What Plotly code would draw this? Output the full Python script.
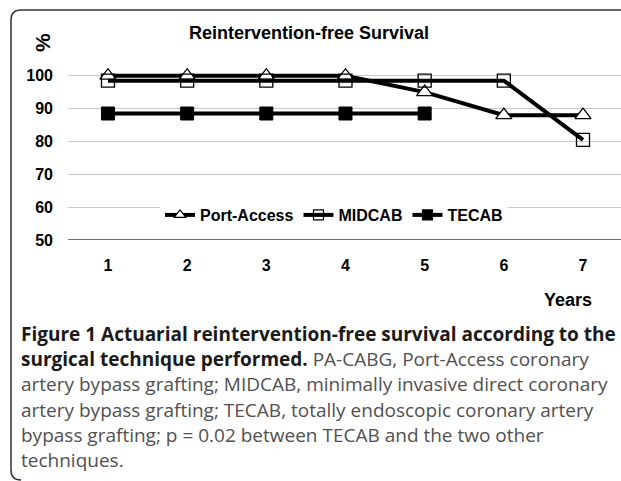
import plotly.graph_objects as go

years = [1, 2, 3, 4, 5, 6, 7]
port_access = [100, 100, 100, 100, 95, 88, 88]
midcab = [98.5, 98.5, 98.5, 98.5, 98.5, 98.5, 80.5]
tecab_years = [1, 2, 3, 4, 5]
tecab = [88.5, 88.5, 88.5, 88.5, 88.5]
y_ticks = [50, 60, 70, 80, 90, 100]

W, H = 621, 481
L, R, T, B = 68, 0, 56, 241
PW, PH = W - L - R, H - T - B

def px(x):
    return (x - L) / PW

def py(y):
    return (H - B - y) / PH

ARIAL = "Liberation Sans, Arial"
fig = go.Figure()
ln = dict(color="black", width=4)
pa_m = dict(symbol="triangle-up", size=14, color="white", line=dict(color="black", width=1.3))
mc_m = dict(symbol="square-open", size=13, color="black", line=dict(width=1.3))
te_m = dict(symbol="square", size=13, color="black", line=dict(color="black", width=1))

fig.add_trace(go.Scatter(x=years, y=port_access, name="Port-Access", mode="lines+markers",
                         line=ln, marker=pa_m, showlegend=False))
fig.add_trace(go.Scatter(x=years, y=midcab, name="MIDCAB", mode="lines+markers",
                         line=ln, marker=mc_m, showlegend=False))
fig.add_trace(go.Scatter(x=tecab_years, y=tecab, name="TECAB", mode="lines+markers",
                         line=ln, marker=te_m, showlegend=False))
# legend entries (smaller symbols as in the reference)
for name, sym, col in [("Port-Access", "triangle-up", "white"),
                       ("MIDCAB", "square-open", "black"),
                       ("TECAB", "square", "black")]:
    fig.add_trace(go.Scatter(x=[None], y=[None], name=f"<b>{name}</b>", mode="lines+markers",
                             line=dict(color="black", width=4),
                             marker=dict(symbol=sym, size=10, color=col,
                                         line=dict(color="black", width=1.2))))

fig.update_layout(
    width=W, height=H, margin=dict(l=L, r=R, t=T, b=B),
    paper_bgcolor="white", plot_bgcolor="white",
    showlegend=True,
    legend=dict(orientation="h", x=px(334), y=py(215), xanchor="center", yanchor="middle",
                bgcolor="white", font=dict(family=ARIAL, size=16, color="black"),
                itemwidth=30, traceorder="normal", borderwidth=0),
    xaxis=dict(range=[0.495, 7.48], tickvals=years, ticktext=[f"<b>{v}</b>" for v in years],
               showgrid=False, zeroline=False, showline=False, ticks="",
               tickfont=dict(family=ARIAL, size=16, color="black"), ticklabelstandoff=14),
    yaxis=dict(range=[50, 106], tickvals=y_ticks, ticktext=[f"<b>{v}</b>" for v in y_ticks],
               showgrid=True, gridcolor="#c8c8c8", gridwidth=1, zeroline=False,
               showline=False, ticks="", tickfont=dict(family=ARIAL, size=16, color="black"),
               ticklabelstandoff=14),
)

fig.add_shape(type="line", xref="paper", yref="y", x0=0, x1=1, y0=50, y1=50,
              line=dict(color="#404040", width=1.5))

fig.add_annotation(text="<b>Reintervention-free Survival</b>", xref="paper", yref="paper",
                   x=px(308.5), y=py(33), showarrow=False, xanchor="center", yanchor="middle",
                   font=dict(family=ARIAL, size=18, color="black"))
fig.add_annotation(text="<b>%</b>", xref="paper", yref="paper", x=px(42), y=py(43),
                   showarrow=False, textangle=-90, xanchor="center", yanchor="middle",
                   font=dict(family=ARIAL, size=21, color="black"))
fig.add_annotation(text="<b>Years</b>", xref="paper", yref="paper", x=px(568), y=py(300),
                   showarrow=False, xanchor="center", yanchor="middle",
                   font=dict(family=ARIAL, size=18, color="black"))

G = "<span style='color:#505050'>"
caption = [
    "<b>Figure 1 Actuarial reintervention-free survival according to the</b>",
    "<b>surgical technique performed.</b> " + G + "PA-CABG, Port-Access coronary</span>",
    G + "artery bypass grafting; MIDCAB, minimally invasive direct coronary</span>",
    G + "artery bypass grafting; TECAB, totally endoscopic coronary artery</span>",
    G + "bypass grafting; p = 0.02 between TECAB and the two other</span>",
    G + "techniques.</span>",
]
for i, line in enumerate(caption):
    fig.add_annotation(text=line, xref="paper", yref="paper", x=px(19), y=py(334 + 25.2 * i),
                       showarrow=False, xanchor="left", yanchor="middle", align="left",
                       font=dict(family="Open Sans", size=19, color="#1a1a1a"))

# rounded frame
x0, yt, yb, r = 11, 10, 480, 10
path = (f"M {px(W)},{py(yt)} L {px(x0 + r)},{py(yt)} Q {px(x0)},{py(yt)} {px(x0)},{py(yt + r)} "
        f"L {px(x0)},{py(yb - r)} Q {px(x0)},{py(yb)} {px(x0 + r)},{py(yb)}")
fig.add_shape(type="path", xref="paper", yref="paper", path=path,
              line=dict(color="#333333", width=1.5))

fig.write_html("out.html", config={"displayModeBar": False},
               post_script="document.body.style.margin='0';document.body.style.overflow='hidden';")
